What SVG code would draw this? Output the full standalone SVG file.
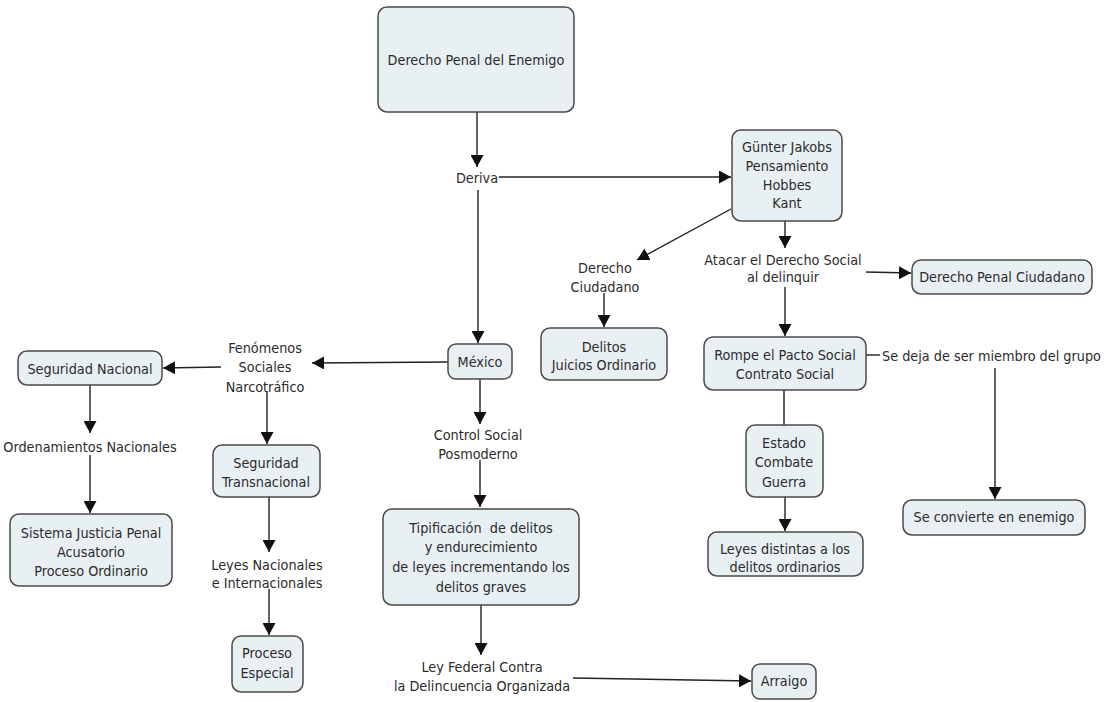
<svg xmlns="http://www.w3.org/2000/svg" width="1107" height="702" viewBox="0 0 1107 702">
<style>
.n rect{fill:#e9f0f3;stroke:#4a4a4a;stroke-width:1.5}
text{font-family:"DejaVu Sans Condensed","DejaVu Sans","Liberation Sans",sans-serif;font-stretch:condensed;font-size:14.3px;fill:#2b2b2b;text-anchor:middle;dominant-baseline:central}
.c line,.c path{stroke:#222;stroke-width:1.4;fill:none}
.a{marker-end:url(#ah)}
</style>
<defs>
<marker id="ah" markerUnits="userSpaceOnUse" markerWidth="13" markerHeight="13" refX="12" refY="6.5" orient="auto">
<path d="M0,0 L12,6.5 L0,13 z" fill="#111"/>
</marker>
</defs>
<rect width="1107" height="702" fill="#ffffff"/>
<g class="c" id="connectors">
<line class="a" x1="477" y1="112" x2="477" y2="167"/>
<line class="a" x1="499" y1="177" x2="731" y2="177"/>
<line class="a" x1="478" y1="190" x2="478" y2="343"/>
<line class="a" x1="731" y1="209" x2="637" y2="260"/>
<line class="a" x1="785" y1="221" x2="785" y2="248"/>
<line class="a" x1="866" y1="272" x2="911" y2="273"/>
<line class="a" x1="785" y1="287" x2="785" y2="336"/>
<line class="a" x1="604" y1="293" x2="604" y2="327"/>
<line class="a" x1="448" y1="362" x2="312" y2="363"/>
<line class="a" x1="221" y1="367" x2="163" y2="368"/>
<line class="a" x1="90" y1="385" x2="90" y2="433"/>
<line class="a" x1="90" y1="455" x2="90" y2="513"/>
<line class="a" x1="267" y1="392" x2="267" y2="444"/>
<line class="a" x1="269" y1="497" x2="269" y2="552"/>
<line class="a" x1="269" y1="589" x2="269" y2="635"/>
<line class="a" x1="480" y1="379" x2="480" y2="424"/>
<line class="a" x1="480" y1="460" x2="480" y2="507"/>
<line class="a" x1="481" y1="605" x2="481" y2="655"/>
<line class="a" x1="573" y1="678" x2="751" y2="681"/>
<line x1="866" y1="355" x2="880" y2="355"/>
<line class="a" x1="995" y1="368" x2="995" y2="499"/>
<line x1="784" y1="390" x2="784" y2="425"/>
<line class="a" x1="785" y1="497" x2="785" y2="531"/>
</g>
<g class="n" id="n-derecho-penal-enemigo">
<rect x="378" y="7" width="196" height="105" rx="9"/>
<text x="476" y="60">Derecho Penal del Enemigo</text>
</g>
<g id="l-deriva"><text x="477" y="178">Deriva</text></g>
<g class="n" id="n-gunter">
<rect x="732" y="130" width="110" height="91" rx="9"/>
<text x="787" y="147">Günter Jakobs</text>
<text x="787" y="166">Pensamiento</text>
<text x="787" y="185">Hobbes</text>
<text x="787" y="203">Kant</text>
</g>
<g id="l-derecho-ciudadano">
<text x="605" y="268">Derecho</text>
<text x="605" y="287">Ciudadano</text>
</g>
<g id="l-atacar">
<text x="783" y="260">Atacar el Derecho Social</text>
<text x="783" y="277">al delinquir</text>
</g>
<g class="n" id="n-derecho-penal-ciudadano">
<rect x="912" y="260" width="180" height="34" rx="9"/>
<text x="1002" y="277">Derecho Penal Ciudadano</text>
</g>
<g class="n" id="n-delitos">
<rect x="541" y="328" width="126" height="52" rx="9"/>
<text x="604" y="347">Delitos</text>
<text x="604" y="365">Juicios Ordinario</text>
</g>
<g class="n" id="n-rompe">
<rect x="704" y="337" width="162" height="53" rx="9"/>
<text x="785" y="355">Rompe el Pacto Social</text>
<text x="785" y="374">Contrato Social</text>
</g>
<g id="l-se-deja"><text x="882" y="356" style="text-anchor:start">Se deja de ser miembro del grupo</text></g>
<g class="n" id="n-estado">
<rect x="746" y="425" width="77" height="72" rx="9"/>
<text x="784" y="443">Estado</text>
<text x="784" y="462">Combate</text>
<text x="784" y="482">Guerra</text>
</g>
<g class="n" id="n-leyes-distintas">
<rect x="708" y="532" width="155" height="44" rx="9"/>
<text x="785" y="549">Leyes distintas a los</text>
<text x="785" y="567">delitos ordinarios</text>
</g>
<g class="n" id="n-se-convierte">
<rect x="903" y="500" width="182" height="35" rx="9"/>
<text x="994" y="517">Se convierte en enemigo</text>
</g>
<g class="n" id="n-mexico">
<rect x="448" y="344" width="64" height="35" rx="8"/>
<text x="480" y="362">México</text>
</g>
<g id="l-fenomenos">
<text x="265" y="348">Fenómenos</text>
<text x="265" y="367">Sociales</text>
<text x="265" y="387">Narcotráfico</text>
</g>
<g class="n" id="n-seguridad-nacional">
<rect x="18" y="351" width="144" height="34" rx="9"/>
<text x="90" y="369">Seguridad Nacional</text>
</g>
<g id="l-ordenamientos"><text x="90" y="447">Ordenamientos Nacionales</text></g>
<g class="n" id="n-sistema">
<rect x="10" y="514" width="162" height="72" rx="9"/>
<text x="91" y="533">Sistema Justicia Penal</text>
<text x="91" y="552">Acusatorio</text>
<text x="91" y="571">Proceso Ordinario</text>
</g>
<g class="n" id="n-seguridad-transnacional">
<rect x="213" y="445" width="107" height="52" rx="9"/>
<text x="266" y="463">Seguridad</text>
<text x="266" y="482">Transnacional</text>
</g>
<g id="l-leyes-nacionales">
<text x="267" y="565">Leyes Nacionales</text>
<text x="267" y="583">e Internacionales</text>
</g>
<g class="n" id="n-proceso-especial">
<rect x="232" y="636" width="71" height="56" rx="9"/>
<text x="267" y="653">Proceso</text>
<text x="267" y="673">Especial</text>
</g>
<g id="l-control-social">
<text x="478" y="435">Control Social</text>
<text x="478" y="454">Posmoderno</text>
</g>
<g class="n" id="n-tipificacion">
<rect x="383" y="509" width="196" height="96" rx="9"/>
<text x="481" y="528" xml:space="preserve">Tipificación  de delitos</text>
<text x="481" y="547">y endurecimiento</text>
<text x="481" y="567">de leyes incrementando los</text>
<text x="481" y="587">delitos graves</text>
</g>
<g id="l-ley-federal">
<text x="482" y="667">Ley Federal Contra</text>
<text x="482" y="686">la Delincuencia Organizada</text>
</g>
<g class="n" id="n-arraigo">
<rect x="752" y="664" width="64" height="35" rx="8"/>
<text x="784" y="681">Arraigo</text>
</g>
</svg>
